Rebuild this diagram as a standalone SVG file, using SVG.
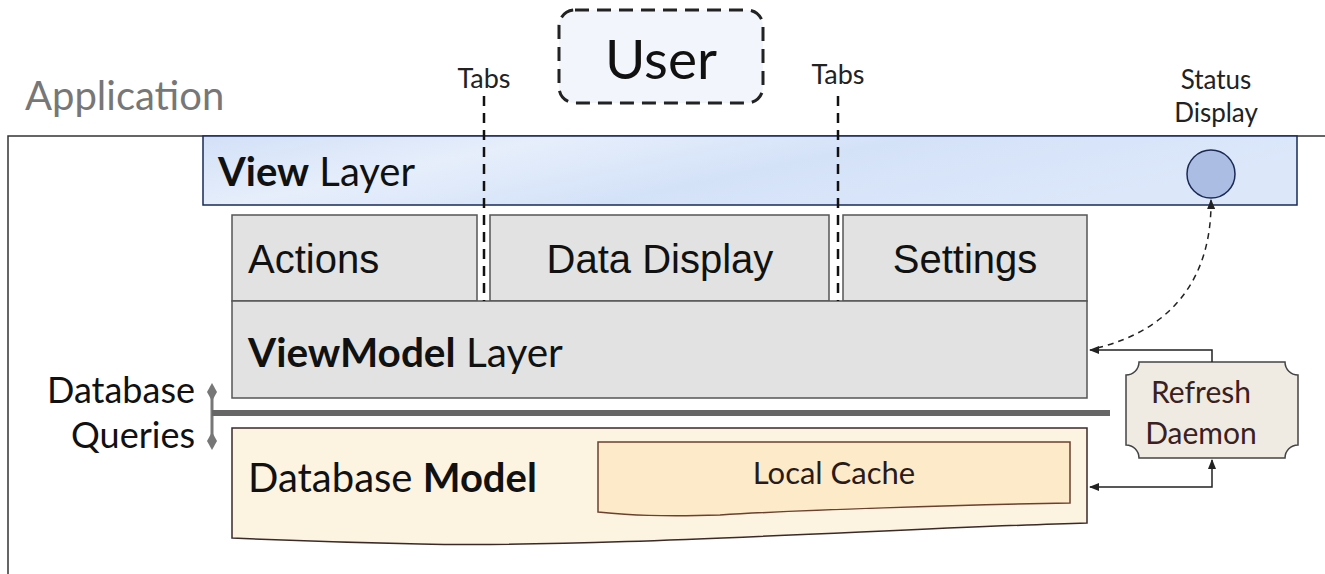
<svg xmlns="http://www.w3.org/2000/svg" width="1325" height="574" viewBox="0 0 1325 574">
<style>
.lato{font-family:Lato,"Liberation Sans",sans-serif}
.arial{font-family:"Liberation Sans",Arial,sans-serif}
.box{fill:#e2e2e2;stroke:#555;stroke-width:1.5}
.tab{fill:none;stroke:#111;stroke-width:2.5;stroke-dasharray:10 7}
.conn{fill:none;stroke:#222;stroke-width:1.5}
</style>
<defs>
<linearGradient id="vg" x1="0" y1="0" x2="1" y2="0.3">
<stop offset="0" stop-color="#d2e0f7"/>
<stop offset="0.3" stop-color="#e6eefb"/>
<stop offset="0.6" stop-color="#d4e2f8"/>
<stop offset="1" stop-color="#dce7fa"/>
</linearGradient>
<marker id="arr" viewBox="0 0 10 10" refX="9" refY="5" markerWidth="7" markerHeight="7" orient="auto-start-reverse">
<path d="M0,1 L10,5 L0,9 z" fill="#222"/>
</marker>
</defs>

<g id="application">
<path d="M1325,136 H8 V574" fill="none" stroke="#333" stroke-width="1.5"/>
<text class="lato" x="25" y="110" font-size="40" fill="#777">Application</text>
</g>

<g id="view-layer">
<rect x="203" y="136" width="1094" height="69" fill="url(#vg)" stroke="#1a2a55" stroke-width="1.5"/>
<text class="lato" x="218" y="186" font-size="40" fill="#111"><tspan font-weight="bold">View</tspan> Layer</text>
</g>

<g id="user">
<rect x="559" y="10" width="204" height="93" rx="16" fill="#f2f5fb" stroke="#222" stroke-width="3" stroke-dasharray="14 8"/>
<text class="lato" x="661" y="79" font-size="55" text-anchor="middle" fill="#111">User</text>
</g>

<g id="tabs-labels">
<text class="lato" x="484" y="88" font-size="27" text-anchor="middle" fill="#222">Tabs</text>
<text class="lato" x="838" y="84" font-size="27" text-anchor="middle" fill="#222">Tabs</text>
</g>

<g id="status-display">
<text class="lato" x="1216" y="89" font-size="26" text-anchor="middle" fill="#222">Status</text>
<text class="lato" x="1216" y="122" font-size="26" text-anchor="middle" fill="#222">Display</text>
<circle cx="1211" cy="174" r="24" fill="#abbde3" stroke="#1a2a55" stroke-width="1.5"/>
</g>

<g id="actions">
<rect class="box" x="232" y="215" width="245" height="86"/>
<text class="arial" x="248" y="273" font-size="40" fill="#111">Actions</text>
</g>
<g id="data-display">
<rect class="box" x="490" y="215" width="339" height="86"/>
<text class="arial" x="660" y="273" font-size="40" text-anchor="middle" fill="#111">Data Display</text>
</g>
<g id="settings">
<rect class="box" x="843" y="215" width="244" height="86"/>
<text class="arial" x="965" y="273" font-size="40" text-anchor="middle" fill="#111">Settings</text>
</g>

<g id="viewmodel-layer">
<rect class="box" x="232" y="301" width="855" height="97"/>
<text class="lato" x="248" y="367" font-size="40.5" fill="#111"><tspan font-weight="bold">ViewModel</tspan> Layer</text>
</g>

<g id="database-queries">
<text class="lato" x="195" y="403" font-size="36" text-anchor="end" fill="#111">Database</text>
<text class="lato" x="195" y="448" font-size="36" text-anchor="end" fill="#111">Queries</text>
<line x1="212" y1="392" x2="212" y2="441" stroke="#777" stroke-width="3"/>
<path d="M212,383 L217,392 L212,401 L207,392 z" fill="#777"/>
<path d="M212,432 L217,441 L212,450 L207,441 z" fill="#777"/>
<line x1="212" y1="413" x2="1110" y2="413" stroke="#666" stroke-width="6"/>
</g>

<g id="database-model">
<path d="M232,428 H1087 V523 C900,528 600,548 420,544 C330,542 280,540 232,538 z" fill="#fdf3e1" stroke="#3a2a2a" stroke-width="1.5"/>
<text class="lato" x="248" y="492" font-size="40" fill="#111">Database <tspan font-weight="bold">Model</tspan></text>
</g>

<g id="local-cache">
<path d="M598,442 H1070 V503 C960,505 800,510 720,515 C660,517 630,515 598,512 z" fill="#fdeac8" stroke="#6a4030" stroke-width="1.5"/>
<text class="lato" x="834" y="484" font-size="31" text-anchor="middle" fill="#2a1a1a">Local Cache</text>
</g>

<g id="refresh-daemon">
<path d="M1139,362 H1285 A13,13 0 0 0 1298,375 V445 A13,13 0 0 0 1285,458 H1139 A13,13 0 0 0 1126,445 V375 A13,13 0 0 0 1139,362 z" fill="#efebe3" stroke="#444" stroke-width="1.5"/>
<text class="lato" x="1201" y="403" font-size="30" text-anchor="middle" fill="#3a2020">Refresh</text>
<text class="lato" x="1201" y="444" font-size="30" text-anchor="middle" fill="#3a2020">Daemon</text>
</g>

<g id="connectors">
<line class="tab" x1="484" y1="96" x2="484" y2="301"/>
<line class="tab" x1="838" y1="96" x2="838" y2="301"/>
<path class="conn" d="M1212,362 V350 H1090" marker-end="url(#arr)"/>
<path class="conn" d="M1090,487 H1212 V460" marker-start="url(#arr)" marker-end="url(#arr)"/>
<path d="M1097,348 C1170,330 1212,280 1211,200" fill="none" stroke="#222" stroke-width="1.5" stroke-dasharray="6 5" marker-end="url(#arr)"/>
</g>
</svg>
